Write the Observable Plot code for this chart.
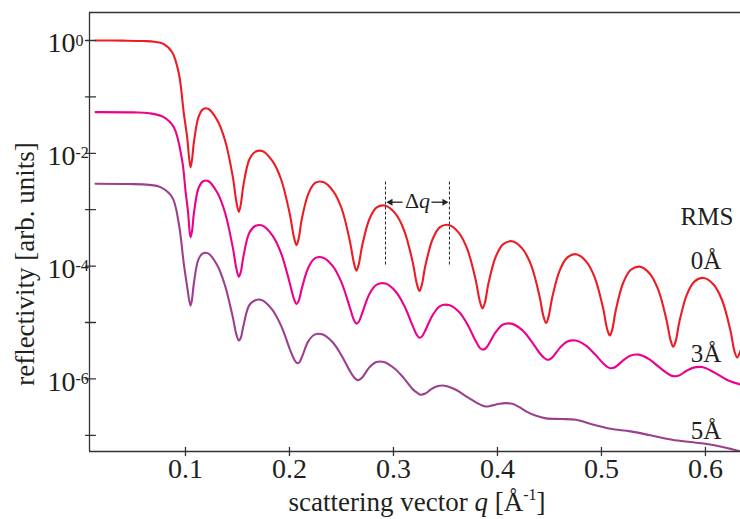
<!DOCTYPE html>
<html>
<head>
<meta charset="utf-8">
<script src="https://cdn.jsdelivr.net/npm/d3@7"></script>
<script src="https://cdn.jsdelivr.net/npm/@observablehq/plot@0.6"></script>
<style>
  html, body { margin: 0; padding: 0; background: #fff; }
  #chart svg { display: block; }
</style>
</head>
<body>
<div id="chart"></div>
<script>
// ---- data: [q (Å^-1), log10 reflectivity] ----
const rms0 = [
  [0.0135,0],[0.0400,-0.003],[0.0600,-0.010],[0.0700,-0.022],[0.0788,-0.060],[0.0872,-0.210],[0.0936,-0.585],[0.0984,-1.290],[0.1015,-1.700],
  [0.1048,-2.250],[0.1062,-2.125],[0.1082,-1.790],[0.1125,-1.360],[0.1167,-1.220],[0.1218,-1.210],[0.1307,-1.420],[0.1380,-1.770],[0.1454,-2.405],[0.1489,-2.855],
  [0.1513,-3.040],[0.1531,-2.915],[0.1558,-2.555],[0.1614,-2.110],[0.1671,-1.975],[0.1738,-1.960],[0.1837,-2.140],[0.1919,-2.460],[0.2001,-3.060],[0.2041,-3.470],
  [0.2067,-3.630],[0.2088,-3.520],[0.2118,-3.170],[0.2183,-2.710],[0.2247,-2.525],[0.2324,-2.510],[0.2420,-2.670],[0.2500,-2.970],[0.2580,-3.550],[0.2618,-3.930],
  [0.2644,-4.080],[0.2666,-3.970],[0.2700,-3.630],[0.2770,-3.160],[0.2839,-2.960],[0.2923,-2.930],[0.3021,-3.075],[0.3103,-3.370],[0.3185,-3.930],[0.3224,-4.310],
  [0.3250,-4.440],[0.3273,-4.330],[0.3306,-4.000],[0.3377,-3.520],[0.3447,-3.310],[0.3532,-3.270],[0.3629,-3.410],[0.3710,-3.700],[0.3791,-4.250],[0.3830,-4.620],
  [0.3856,-4.750],[0.3879,-4.650],[0.3913,-4.310],[0.3984,-3.830],[0.4056,-3.610],[0.4141,-3.560],[0.4239,-3.690],[0.4321,-3.970],[0.4403,-4.520],[0.4442,-4.890],
  [0.4468,-5.010],[0.4491,-4.900],[0.4526,-4.560],[0.4598,-4.080],[0.4670,-3.850],[0.4757,-3.790],[0.4854,-3.920],[0.4935,-4.200],[0.5015,-4.740],[0.5054,-5.110],
  [0.5080,-5.230],[0.5103,-5.130],[0.5137,-4.790],[0.5208,-4.300],[0.5280,-4.070],[0.5365,-4.010],[0.5463,-4.130],[0.5544,-4.410],[0.5625,-4.950],[0.5664,-5.310],
  [0.5690,-5.430],[0.5714,-5.330],[0.5749,-4.990],[0.5822,-4.500],[0.5896,-4.270],[0.5984,-4.210],[0.6080,-4.330],[0.6161,-4.610],[0.6241,-5.150],[0.6279,-5.510],
  [0.6305,-5.620],[0.6337,-5.500]
];
const rms3 = [
  [0.0135,-1.270],[0.0500,-1.275],[0.0650,-1.290],[0.0791,-1.360],[0.0888,-1.540],[0.0968,-2.130],[0.1000,-2.660],[0.1025,-3.050],
  [0.1048,-3.490],[0.1062,-3.390],[0.1082,-3.050],[0.1125,-2.620],[0.1167,-2.500],[0.1218,-2.490],[0.1307,-2.700],[0.1380,-3.050],[0.1454,-3.660],[0.1489,-4.040],
  [0.1513,-4.190],[0.1531,-4.110],[0.1558,-3.820],[0.1614,-3.410],[0.1671,-3.290],[0.1738,-3.280],[0.1837,-3.460],[0.1919,-3.770],[0.2001,-4.290],[0.2041,-4.570],
  [0.2067,-4.670],[0.2088,-4.620],[0.2118,-4.400],[0.2183,-4.020],[0.2247,-3.860],[0.2324,-3.850],[0.2420,-4.010],[0.2500,-4.290],[0.2580,-4.730],[0.2618,-4.950],
  [0.2644,-5.020],[0.2666,-4.990],[0.2700,-4.830],[0.2770,-4.490],[0.2839,-4.330],[0.2923,-4.310],[0.3021,-4.450],[0.3103,-4.700],[0.3185,-5.060],[0.3224,-5.220],
  [0.3250,-5.270],[0.3273,-5.250],[0.3306,-5.140],[0.3377,-4.870],[0.3447,-4.710],[0.3532,-4.690],[0.3629,-4.810],[0.3710,-5.030],[0.3791,-5.330],[0.3830,-5.450],
  [0.3856,-5.480],[0.3878,-5.470],[0.3911,-5.400],[0.3980,-5.180],[0.4049,-5.040],[0.4132,-5.020],[0.4236,-5.130],[0.4322,-5.320],[0.4409,-5.550],[0.4450,-5.630],
  [0.4478,-5.660],[0.4500,-5.655],[0.4532,-5.610],[0.4600,-5.450],[0.4668,-5.340],[0.4750,-5.320],[0.4851,-5.410],[0.4935,-5.560],[0.5020,-5.730],[0.5060,-5.790],
  [0.5087,-5.810],[0.5109,-5.805],[0.5141,-5.780],[0.5209,-5.670],[0.5277,-5.590],[0.5359,-5.570],[0.5458,-5.650],[0.5541,-5.770],[0.5624,-5.890],[0.5664,-5.935],
  [0.5690,-5.950],[0.5746,-5.940],[0.5815,-5.860],[0.5885,-5.800],[0.5968,-5.790],[0.6080,-5.880],[0.6209,-6.020],[0.6337,-6.100]
];
const rms5 = [
  [0.0135,-2.540],[0.0450,-2.545],[0.0650,-2.560],[0.0760,-2.600],[0.0872,-2.780],[0.0936,-3.250],[0.0984,-3.960],[0.1015,-4.350],
  [0.1048,-4.700],[0.1061,-4.610],[0.1081,-4.300],[0.1123,-3.890],[0.1164,-3.780],[0.1214,-3.770],[0.1304,-3.980],[0.1378,-4.330],[0.1453,-4.890],[0.1489,-5.210],
  [0.1513,-5.320],[0.1530,-5.280],[0.1557,-5.060],[0.1611,-4.700],[0.1666,-4.610],[0.1731,-4.600],[0.1834,-4.770],[0.1920,-5.060],[0.2005,-5.480],[0.2047,-5.660],
  [0.2074,-5.720],[0.2093,-5.710],[0.2122,-5.600],[0.2182,-5.330],[0.2242,-5.215],[0.2314,-5.210],[0.2415,-5.350],[0.2499,-5.580],[0.2584,-5.870],[0.2624,-5.980],
  [0.2651,-6.020],[0.2671,-6.015],[0.2702,-5.970],[0.2766,-5.800],[0.2830,-5.705],[0.2907,-5.700],[0.3013,-5.820],[0.3101,-5.990],[0.3189,-6.190],[0.3232,-6.250],
  [0.3260,-6.280],[0.3306,-6.260],[0.3364,-6.180],[0.3421,-6.130],[0.3490,-6.120],[0.3609,-6.200],[0.3707,-6.320],[0.3806,-6.430],[0.3853,-6.470],
  [0.3885,-6.490],[0.3960,-6.465],[0.4020,-6.440],[0.4077,-6.430],[0.4150,-6.445],[0.4210,-6.500],[0.4280,-6.580],[0.4365,-6.650],[0.4468,-6.700],
  [0.4612,-6.710],[0.4757,-6.725],[0.4917,-6.810],[0.5087,-6.885],[0.5279,-6.930],[0.5471,-7.000],[0.5680,-7.080],[0.5856,-7.120],[0.6000,-7.150],
  [0.6176,-7.210],[0.6337,-7.285]
];
const seriesColors = ["#ed1c24", "#ec008c", "#9b3f8e"];

// ticks
const xTicks = [0.1, 0.2, 0.3, 0.4, 0.5, 0.6];
const yTickExps = [0, -1, -2, -3, -4, -5, -6, -7];
const yLabelExps = [0, -2, -4, -6];

// legend-like annotations (text, q, log10 R of baseline)
const rmsLabels = ["RMS", "0Å", "3Å", "5Å"];
const rmsLabelQ = [0.6015, 0.6005, 0.6005, 0.6005];
const rmsLabelLog = [-3.280, -4.043, -5.704, -7.057];

// Δq annotation
const dqLinesQ = [0.2923, 0.3538];
const dqLinesLog = [-2.51, -4.01];
const dqArrowLog = -2.867;
const dqShaftsQ = [[0.3087, 0.2950], [0.3365, 0.3512]];
const dqHeadsQ = [0.2971, 0.3490];
const dqHeadsRotate = [-90, 90];
const dqTextQ = 0.3231;
const dqTextLog = -2.970;

const xDomain = [0.0077, 0.6337];
const yDomainLog = [-7.287, 0.496];

const X_TITLE = "scattering vector q [Å-1]";
const Y_TITLE = "reflectivity [arb. units]";
const DQ_TEXT = "Δq";

// ---- build ----
const toRows = (pairs) => pairs.map(([q, l]) => ({q, r: 10 ** l}));
const curves = [rms0, rms3, rms5].map(toRows);
const axisColor = "#333";
const textColor = "#231f20";
const lineShape = {draw(context, length) { context.moveTo(0, 0); context.lineTo(0, -length); }};

const chart = Plot.plot({
  width: 740,
  height: 519,
  marginLeft: 89,
  marginRight: 0,
  marginTop: 12,
  marginBottom: 68,
  style: {fontFamily: '"Liberation Serif", "Times New Roman", serif', background: "#fff", color: textColor},
  x: {domain: xDomain, axis: null},
  y: {type: "log", domain: yDomainLog.map((e) => 10 ** e), axis: null},
  marks: [
    // curves
    ...curves.map((rows, i) => Plot.line(rows, {x: "q", y: "r", stroke: seriesColors[i], strokeWidth: 2.1, curve: "catmull-rom", clip: true})),
    // spines (left, top, bottom)
    Plot.ruleX([xDomain[0]], {stroke: axisColor, strokeWidth: 1.3}),
    Plot.ruleY([10 ** yDomainLog[1]], {stroke: axisColor, strokeWidth: 1.3}),
    Plot.ruleY([10 ** yDomainLog[0]], {stroke: axisColor, strokeWidth: 1.3}),
    // tick marks crossing the spines
    Plot.vector(yTickExps, {y: (e) => 10 ** e, frameAnchor: "left", rotate: 90, length: 10, anchor: "middle", shape: lineShape, stroke: axisColor, strokeWidth: 1.3, dx: 1}),
    Plot.vector(xTicks, {x: (d) => d, frameAnchor: "bottom", length: 8, anchor: "middle", shape: lineShape, stroke: axisColor, strokeWidth: 1.3}),
    // y tick labels: 10 with superscript exponent
    Plot.text(yLabelExps, {y: (e) => 10 ** e, text: () => "10", frameAnchor: "left", textAnchor: "end", dx: -14, dy: 3, fontSize: 28, fill: textColor}),
    Plot.text(yLabelExps, {y: (e) => 10 ** e, text: (e) => String(e), frameAnchor: "left", textAnchor: "start", dx: -14, dy: 0, fontSize: 16, fill: textColor}),
    // x tick labels
    Plot.text(xTicks, {x: (d) => d, text: (d) => d.toFixed(1), frameAnchor: "bottom", lineAnchor: "top", dy: 7, fontSize: 28, fill: textColor}),
    // axis titles
    Plot.text([X_TITLE], {text: (d) => d, frameAnchor: "bottom", textAnchor: "middle", lineAnchor: "bottom", dy: 59, dx: 2, fontSize: 27, fill: textColor}),
    Plot.text([Y_TITLE], {text: (d) => d, frameAnchor: "left", textAnchor: "middle", rotate: -90, dx: -64, dy: 32, fontSize: 27, fill: textColor}),
    // RMS labels
    Plot.text(rmsLabels, {x: (d, i) => rmsLabelQ[i], y: (d, i) => 10 ** rmsLabelLog[i], text: (d) => d, lineAnchor: "bottom", fontSize: 25, fill: textColor}),
    // Δq annotation
    Plot.ruleX(dqLinesQ, {x: (d) => d, y1: 10 ** dqLinesLog[0], y2: 10 ** dqLinesLog[1], stroke: "#222", strokeWidth: 1, strokeDasharray: "3,2"}),
    Plot.link(dqShaftsQ, {x1: (d) => d[0], x2: (d) => d[1], y1: () => 10 ** dqArrowLog, y2: () => 10 ** dqArrowLog, stroke: "#222", strokeWidth: 1.3}),
    Plot.dot(dqHeadsQ, {x: (d) => d, y: () => 10 ** dqArrowLog, symbol: "triangle", r: 2.6, fill: "#222", stroke: null, rotate: (d, i) => dqHeadsRotate[i]}),
    Plot.text([DQ_TEXT], {x: () => dqTextQ, y: () => 10 ** dqTextLog, text: (d) => d, lineAnchor: "bottom", fontSize: 22, fill: textColor})
  ]
});

document.getElementById("chart").append(chart);

// rich text: italic q and superscripts (kept as real text)
const findText = (s) => d3.select(chart).selectAll("text").filter(function () { return this.textContent === s; });
const xt = findText(X_TITLE);
xt.text(null);
xt.append("tspan").text("scattering vector ");
xt.append("tspan").attr("font-style", "italic").text("q");
xt.append("tspan").text(" [Å");
xt.append("tspan").attr("font-size", 16).attr("dy", -11).text("-1");
xt.append("tspan").attr("dy", 11).text("]");

const dq = findText(DQ_TEXT);
dq.text(null);
dq.append("tspan").text("Δ");
dq.append("tspan").attr("font-style", "italic").text("q");
</script>
</body>
</html>
